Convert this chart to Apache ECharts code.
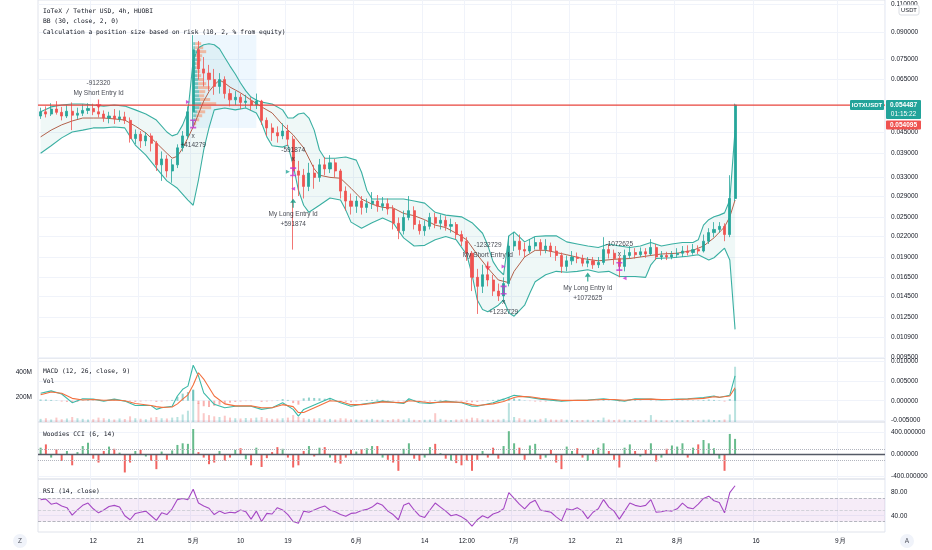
<!DOCTYPE html>
<html><head><meta charset="utf-8">
<script src="https://cdn.jsdelivr.net/npm/echarts/dist/echarts.min.js"></script>
<style>html,body{margin:0;padding:0;background:#fff;}#c{width:932px;height:550px;}</style>
</head><body><div id="c"></div>
<script>
// ---------- DATA ----------
const startDateUTC = Date.UTC(2021, 3, 2);   // first category (Apr 2)
const dayCount = 161;                         // Apr 2 .. Sep 9
const timeTicks = {'04-12':'12','04-21':'21','05-01':'5月','05-10':'10','05-19':'19','06-01':'6月','06-14':'14','06-22':'12:00','07-01':'7月','07-12':'12','07-21':'21','08-01':'8月','08-16':'16','09-01':'9月'};

const opens = [
 .0505,.0520,.0512,.0530,.0518,.0505,.0522,.0508,.0515,.0525,
 .0532,.0520,.0512,.0498,.0505,.0495,.0502,.0490,.0432,.0445,
 .0425,.0440,.0418,.0360,.0375,.0345,.0360,.0405,.0440,.0520,
 .0800,.0700,.0680,.0650,.0620,.0650,.0590,.0565,.0575,.0555,
 .0560,.0545,.0560,.0490,.0465,.0450,.0440,.0455,.0430,.0345,
 .0335,.0310,.0340,.0330,.0360,.0350,.0365,.0345,.0300,.0280,
 .0270,.0280,.0268,.0275,.0280,.0270,.0275,.0265,.0240,.0228,
 .0250,.0262,.0238,.0228,.0235,.0250,.0240,.0245,.0235,.0238,
 .0222,.0212,.0195,.0165,.0155,.0168,.0162,.0150,.0145,.0158,
 .0205,.0212,.0200,.0198,.0205,.0210,.0200,.0205,.0198,.0192,
 .0178,.0185,.0190,.0188,.0182,.0185,.0180,.0183,.0200,.0195,
 .0188,.0178,.0192,.0196,.0193,.0197,.0194,.0203,.0190,.0192,
 .0190,.0193,.0195,.0198,.0196,.0200,.0198,.0212,.0225,.0230,
 .0235,.0222,.0285];
const closes = [
 .0520,.0512,.0530,.0518,.0505,.0522,.0508,.0515,.0525,.0532,
 .0520,.0512,.0498,.0505,.0495,.0502,.0490,.0432,.0445,.0425,
 .0440,.0418,.0360,.0375,.0345,.0360,.0405,.0440,.0520,.0800,
 .0700,.0680,.0650,.0620,.0650,.0590,.0565,.0575,.0555,.0560,
 .0545,.0560,.0490,.0465,.0450,.0440,.0455,.0430,.0345,.0335,
 .0310,.0340,.0330,.0360,.0350,.0365,.0345,.0300,.0280,.0270,
 .0280,.0268,.0275,.0280,.0270,.0275,.0265,.0240,.0228,.0250,
 .0262,.0238,.0228,.0235,.0250,.0240,.0245,.0235,.0238,.0222,
 .0212,.0195,.0165,.0155,.0168,.0162,.0150,.0145,.0158,.0205,
 .0212,.0200,.0198,.0205,.0210,.0200,.0205,.0198,.0192,.0178,
 .0185,.0190,.0188,.0182,.0185,.0180,.0183,.0200,.0195,.0188,
 .0178,.0192,.0196,.0193,.0197,.0194,.0203,.0190,.0192,.0190,
 .0193,.0195,.0198,.0196,.0200,.0198,.0212,.0225,.0230,.0235,
 .0222,.0285,.054487];
const highs = [
 .0535,.0540,.0552,.0560,.0538,.0545,.0555,.0535,.0548,.0552,
 .0550,.0545,.0525,.0520,.0530,.0525,.0520,.0500,.0460,.0455,
 .0452,.0448,.0425,.0395,.0385,.0375,.0415,.0455,.0540,.0885,
 .0850,.0760,.0720,.0700,.0680,.0665,.0610,.0600,.0590,.0585,
 .0575,.0590,.0565,.0500,.0480,.0470,.0480,.0475,.0440,.0370,
 .0350,.0365,.0360,.0375,.0380,.0385,.0375,.0350,.0310,.0295,
 .0290,.0290,.0285,.0298,.0292,.0288,.0285,.0272,.0250,.0262,
 .0290,.0270,.0245,.0245,.0258,.0258,.0255,.0252,.0248,.0242,
 .0228,.0218,.0198,.0175,.0180,.0182,.0168,.0158,.0165,.0220,
 .0225,.0222,.0210,.0215,.0218,.0215,.0215,.0210,.0205,.0196,
 .0192,.0198,.0196,.0193,.0190,.0190,.0190,.0218,.0208,.0200,
 .0192,.0200,.0205,.0202,.0203,.0202,.0215,.0208,.0198,.0197,
 .0198,.0202,.0205,.0206,.0208,.0206,.0222,.0232,.0242,.0242,
 .0240,.0335,.0550];
const lows = [
 .0495,.0500,.0505,.0510,.0490,.0498,.0458,.0495,.0505,.0512,
 .0508,.0500,.0485,.0480,.0478,.0485,.0478,.0420,.0415,.0405,
 .0410,.0395,.0345,.0322,.0330,.0318,.0352,.0395,.0430,.0470,
 .0650,.0620,.0600,.0585,.0590,.0570,.0540,.0545,.0530,.0535,
 .0525,.0530,.0475,.0440,.0425,.0420,.0430,.0410,.0200,.0290,
 .0285,.0300,.0305,.0320,.0335,.0340,.0330,.0285,.0262,.0255,
 .0258,.0255,.0258,.0265,.0260,.0262,.0255,.0230,.0215,.0222,
 .0245,.0230,.0222,.0220,.0230,.0232,.0230,.0228,.0225,.0215,
 .0205,.0185,.0150,.0128,.0148,.0155,.0145,.0140,.0140,.0155,
 .0198,.0192,.0190,.0195,.0200,.0192,.0195,.0190,.0185,.0170,
 .0172,.0180,.0182,.0178,.0177,.0175,.0176,.0180,.0188,.0180,
 .0165,.0172,.0188,.0188,.0190,.0189,.0192,.0186,.0186,.0186,
 .0187,.0189,.0190,.0192,.0193,.0194,.0196,.0208,.0218,.0225,
 .0212,.0218,.0280];

// Bollinger bands (at sample days)
const bbUpperIdx = [0,2,4,6,8,10,12,14,16,18,20,22,24,25,26,27,28,29,30,31,32,33,34,35,36,37,38,39,40,41,42,44,46,47,48,49,50,51,52,53,54,56,58,60,61,62,63,65,67,69,71,73,75,77,80,82,84,85,86,87,88,89,90,92,94,96,98,100,102,104,106,108,110,112,114,116,118,120,122,124,125,126,127,128,129,130,131,132];
const bbUpper = [.0520,.0538,.0545,.0549,.0549,.0545,.0541,.0545,.0541,.0527,.0512,.0491,.0452,.0440,.0446,.0475,.0520,.0745,.0811,.0828,.0834,.0828,.0805,.0758,.0714,.0676,.0635,.0601,.0576,.0564,.0556,.0549,.0527,.0498,.0498,.0512,.0516,.0498,.0458,.0399,.0377,.0377,.0380,.0372,.0342,.0302,.0284,.0284,.0284,.0284,.0280,.0276,.0259,.0254,.0251,.0241,.0224,.0206,.0184,.0174,.0168,.0220,.0226,.0211,.0219,.0220,.0220,.0211,.0208,.0205,.0203,.0208,.0205,.0203,.0205,.0210,.0205,.0208,.0210,.0210,.0214,.0237,.0246,.0251,.0254,.0258,.0282,.0458];
const bbMidIdx = [0,2,4,6,8,10,12,14,16,18,20,22,24,25,26,27,28,29,30,31,32,33,34,35,36,37,38,40,42,44,46,48,50,52,53,55,57,59,61,63,65,67,69,71,73,75,77,79,81,83,85,87,89,90,92,94,96,98,100,103,106,109,112,115,118,121,124,126,128,130,131,132];
const bbMid = [.0437,.0458,.0475,.0488,.0498,.0498,.0498,.0495,.0491,.0471,.0449,.0419,.0390,.0377,.0382,.0404,.0434,.0468,.0512,.0560,.0598,.0626,.0648,.0635,.0617,.0605,.0593,.0564,.0538,.0516,.0475,.0443,.0405,.0350,.0335,.0330,.0328,.0306,.0284,.0274,.0268,.0267,.0257,.0253,.0246,.0237,.0233,.0224,.0214,.0193,.0176,.0162,.0159,.0172,.0190,.0199,.0199,.0196,.0193,.0188,.0185,.0187,.0188,.0191,.0194,.0195,.0199,.0205,.0217,.0234,.0251,.0282];
const bbLowerIdx = [0,2,4,6,8,10,12,14,16,18,20,22,24,26,28,29,30,31,32,33,35,37,39,41,42,43,44,46,47,48,49,50,51,53,55,57,58,59,61,63,65,67,69,71,73,75,77,79,81,82,83,84,85,87,88,89,90,92,93,94,96,98,100,102,104,106,108,110,113,115,116,117,120,123,125,127,128,130,131,132];
const bbLower = [.0390,.0411,.0434,.0452,.0458,.0465,.0465,.0468,.0465,.0413,.0385,.0352,.0322,.0306,.0282,.0272,.0324,.0399,.0465,.0527,.0534,.0527,.0534,.0516,.0481,.0437,.0411,.0407,.0413,.0359,.0302,.0272,.0259,.0272,.0286,.0282,.0263,.0242,.0232,.0241,.0249,.0241,.0217,.0205,.0206,.0214,.0219,.0214,.0193,.0168,.0141,.0132,.0130,.0136,.0141,.0129,.0126,.0136,.0148,.0160,.0168,.0172,.0171,.0172,.0174,.0171,.0172,.0166,.0166,.0165,.0180,.0188,.0189,.0191,.0193,.0186,.0189,.0202,.0186,.0115];

// Visible-range volume profile box
const vpStartIdx = 28.6, vpEndIdx = 40.8, vpTop = 0.0886, vpBottom = 0.0465;
const vpPrice = [.0834,.0811,.0789,.0767,.0746,.0726,.0706,.0687,.0668,.0650,.0632,.0615,.0598,.0581,.0566,.0550,.0535,.0520,.0506,.0492,.0479];
const vpBuy  = [2,2,3,3,4,3,3,4,4,5,5,5,6,6,7,8,6,4,3,2,1];
const vpSell = [6,8,10,6,4,3,2,3,4,5,8,12,6,5,10,15,12,8,6,4,2];

// Strategy trade marks
const tradeMarks = [
 {kind:'short', idx:11,    price:0.0549,  text:'-912320\nMy Short Entry Id'},
 {kind:'exit',  idx:28.6,  price:0.0478,  text:'x\n+414279'},
 {kind:'exit',  idx:47.5,  price:0.0343,  text:'-591874\nx'},
 {kind:'long',  idx:47.5,  price:0.0276,  text:'My Long Entry Id\n+591874'},
 {kind:'short', idx:84.9,  price:0.01785, text:'-1232729\nMy Short Entry Id'},
 {kind:'exit',  idx:88,    price:0.0151,  text:'x\n+1232729'},
 {kind:'long',  idx:103.5, price:0.01654, text:'My Long Entry Id\n+1072625'},
 {kind:'exit',  idx:110.2, price:0.0178,  text:'-1072625\nx'}
];
const flagMarks = [
 {idx:27.9, price:0.0557, dir:'right', kind:'exit'},
 {idx:47.2, price:0.0343, dir:'right', kind:'entry'},
 {idx:48.3, price:0.0305, dir:'left',  kind:'exit'},
 {idx:87.5, price:0.0178, dir:'right', kind:'exit'},
 {idx:110.5, price:0.0164, dir:'left', kind:'exit'}
];
const lastPrice = 0.054487, bidPrice = 0.054095, countdown = '01:15:22', symbolName = 'IOTXUSDT';

// Volume (millions)
const volumeM = [
 25,30,20,35,22,28,40,30,25,20, 22,35,30,25,20,28,24,45,30,26,
 22,35,40,30,28,35,40,60,90,260, 150,70,55,45,40,50,35,30,28,32,
 30,35,40,30,25,28,30,35,55,40, 30,25,28,30,22,25,20,30,28,22,
 20,18,20,25,18,20,16,22,25,20, 30,18,16,18,20,70,25,18,16,20,
 22,25,35,30,22,20,18,20,25,150, 40,30,22,20,18,25,30,20,18,22,
 18,16,15,16,18,15,16,35,20,16, 20,18,15,14,15,16,55,18,14,13,
 14,15,14,16,15,14,18,20,16,15, 20,60,440];

// MACD (12,26,9)
const macdIdx = [0,2,4,6,8,10,12,14,16,18,21,22,23,25,26,27,28,29,30,31,33,35,37,40,42,44,46,48,49,50,53,55,57,59,61,63,65,69,70,72,74,77,80,82,83,86,88,90,91,93,95,99,102,104,107,109,111,113,116,118,121,123,126,128,129,131,132];
const macdLine = [.0019,.0025,.0017,-.0005,.0005,.0004,-.0001,.0004,-.0001,-.0012,-.0012,-.0022,-.0018,-.0014,.0012,.0029,.0037,.0090,.0063,.0020,-.0009,-.0018,-.0014,-.0014,-.0022,-.0018,-.0005,-.0022,-.0039,-.0022,-.0005,.0006,-.0005,-.0014,-.0009,-.0005,-.0001,-.0007,.0005,-.0005,-.0007,-.0001,-.0005,-.0014,-.0014,-.0005,.0004,.0014,.0012,.0008,.0004,-.0001,.0001,.0002,.0005,.0002,-.0001,.0005,.0004,.0002,.0004,.0005,.0008,.0012,.0008,.0014,.0063];
const signalLine = [.0015,.0022,.0019,.0006,.0002,.0003,.0001,.0002,.0000,-.0007,-.0012,-.0015,-.0017,-.0016,-.0008,.0004,.0015,.0040,.0071,.0055,.0012,-.0008,-.0013,-.0013,-.0018,-.0018,-.0010,-.0015,-.0030,-.0030,-.0012,.0000,-.0002,-.0010,-.0010,-.0007,-.0003,-.0005,.0000,-.0002,-.0005,-.0003,-.0004,-.0010,-.0012,-.0008,-.0002,.0008,.0011,.0010,.0006,.0001,.0001,.0001,.0003,.0003,.0001,.0003,.0004,.0003,.0003,.0004,.0006,.0010,.0009,.0012,.0033];
// histogram in units of 1e-4
const macdHistE4 = [
 3,3,2,1,-2,-3,-4,-3,1,2, 1,0,-1,1,1,0,-1,-2,-3,-2,
 -1,-1,-3,-2,-1,2,10,18,22,27, -8,-14,-16,-13,-10,-8,-5,-3,-2,-1,
 -1,0,-3,-2,-1,1,4,2,-6,-10, 6,8,7,6,5,4,1,-2,-3,-4,
 -2,1,2,2,3,2,1,-1,-2,-2, 4,2,-1,-2,-2,2,2,1,0,-1,
 -2,-3,-4,-3,-1,1,2,3,5,9, 6,4,1,-1,-2,-2,-2,-1,-1,-2,
 0,1,1,0,1,0,1,3,1,0, -2,-1,1,2,1,0,1,-1,0,0,
 1,1,1,1,1,1,2,3,2,1, -2,4,30];

// Woodies CCI (6,14)
const cci = [
 120,180,-60,90,-120,60,-200,40,150,210, -80,-150,60,140,100,30,-330,-150,60,80,
 -40,-120,-270,50,-100,70,170,200,190,460, 40,-60,-180,-150,60,-120,-60,80,110,-90,
 -200,120,-230,-70,40,130,100,-60,-240,-200, 60,150,-40,120,130,-60,-150,-170,-60,80,
 50,90,110,150,150,-60,-100,-150,-300,100, 200,-80,-120,-60,130,190,20,-80,-120,-160,
 -200,-120,-300,-100,60,-60,120,-80,150,420, 200,120,-100,160,190,-90,-60,80,-150,-270,
 140,60,110,-60,-120,80,120,200,60,-100, -240,120,180,60,-40,80,200,-130,-60,100,
 160,140,200,-60,120,180,260,200,110,-80, -300,370,280];

// RSI (14)
const rsi = [
 68,69,60,62,57,54,41,50,58,62, 52,45,50,56,58,55,40,33,44,46,
 48,40,32,45,42,52,68,70,68,86, 62,57,53,42,48,44,46,45,50,47,
 34,48,30,44,43,54,50,42,30,27, 48,46,50,54,57,50,47,42,39,44,
 45,49,51,55,62,58,48,42,33,58, 62,50,40,37,50,62,55,48,40,42,
 38,32,22,33,40,36,43,46,52,80, 70,60,52,62,67,50,48,46,38,31,
 52,50,54,48,35,46,52,68,55,48, 34,48,62,58,56,58,68,46,47,49,
 48,52,62,54,52,60,70,74,66,63, 45,80,92];

// Axis ticks
const priceTicks = [0.11,0.09,0.075,0.065,0.045,0.039,0.033,0.029,0.025,0.022,0.019,0.0165,0.0145,0.0125,0.0109,0.0095];
const macdTicks = [-0.005,0,0.005,0.01];
const volTicksM = [200,400];
const cciTicks = [-400,0,400];
const rsiTicks = [40,80];

// ---------- BUILD ----------
const dates = [];
for (let d = 0; d < dayCount; d++) {
  const t = new Date(startDateUTC + d * 86400000);
  dates.push(String(t.getUTCMonth()+1).padStart(2,'0') + '-' + String(t.getUTCDate()).padStart(2,'0'));
}
const UP = '#26a69a', DOWN = '#ef5350', GRIDC = '#f0f3fa', BORDER = '#e0e3eb', TXT = '#131722';
const FONT = 'Liberation Sans', MONO = 'DejaVu Sans Mono', FS = 6.5;
const L = 38, R = 47, W = 932;
const isUp = opens.map((o, i) => closes[i] >= o);

const chart = echarts.init(document.getElementById('c'), null, {renderer:'canvas', width:932, height:550});

const gridTops = [0, 358, 422, 479], gridHeights = [358, 64, 57, 53];
const grids = gridTops.map((t, k) => ({left:L, right:R, top:t, height:gridHeights[k], show:true, borderColor:BORDER, borderWidth:1, backgroundColor:'transparent'}));
const xAxes = [0,1,2,3].map(k => ({
  type:'category', gridIndex:k, data:dates, boundaryGap:true,
  axisLine:{show:false}, axisTick:{show:false},
  axisLabel: k === 3 ? {show:true, interval:(i) => !!timeTicks[dates[i]], formatter:(v) => timeTicks[v] || '', fontSize:FS, color:TXT, fontFamily:FONT, margin:6} : {show:false},
  splitLine:{show:true, interval:(i) => !!timeTicks[dates[i]], lineStyle:{color:GRIDC, width:1}}
}));
const axLabel = (vals, fmt) => ({customValues:vals, formatter:fmt, fontSize:FS, color:TXT, fontFamily:FONT, margin:6});
const yAxes = [
  {type:'log', logBase:10, gridIndex:0, position:'right', min:0.009431, max:0.1129, axisLine:{show:false}, axisTick:{show:false, customValues:priceTicks}, axisLabel:axLabel(priceTicks, v => (+v).toFixed(6)), splitLine:{show:true, lineStyle:{color:GRIDC}}},
  {type:'value', gridIndex:1, position:'right', min:-0.0054, max:0.01084, axisLine:{show:false}, axisTick:{show:false, customValues:macdTicks}, axisLabel:axLabel(macdTicks, v => (+v).toFixed(6)), splitLine:{show:true, lineStyle:{color:GRIDC}}},
  {type:'value', gridIndex:1, position:'left', min:0, max:509.6, axisLine:{show:false}, axisTick:{show:false, customValues:volTicksM}, axisLabel:axLabel(volTicksM, v => v + 'M'), splitLine:{show:false}},
  {type:'value', gridIndex:2, position:'right', min:-449, max:587, axisLine:{show:false}, axisTick:{show:false, customValues:cciTicks}, axisLabel:axLabel(cciTicks, v => (+v).toFixed(6)), splitLine:{show:true, lineStyle:{color:GRIDC}}},
  {type:'value', gridIndex:3, position:'right', min:11.7, max:103.8, axisLine:{show:false}, axisTick:{show:false, customValues:rsiTicks}, axisLabel:axLabel(rsiTicks, v => (+v).toFixed(2)), splitLine:{show:true, lineStyle:{color:GRIDC}}}
];

const pairs = (idx, vals) => idx.map((x, k) => [x, vals[k]]);
const arrowDown = 'path://M4,0L6,0L6,7L10,7L5,13L0,7L4,7Z';
const arrowUp = 'path://M5,0L10,6L6,6L6,13L4,13L4,6L0,6Z';
const exitBeam = 'path://M0,0L9,0L9,2L5.5,2L5.5,9L9,9L9,11L0,11L0,9L3.5,9L3.5,2L0,2Z';
const PURPLE = '#c534cf';

const tradeData = tradeMarks.map(t => {
  let symbol, color, pos, dist, size;
  if (t.kind === 'short') { symbol = arrowDown; color = '#f23645'; pos = 'top'; dist = 2; size = [6, 9]; }
  else if (t.kind === 'long') { symbol = arrowUp; color = '#089981'; pos = 'bottom'; dist = 2; size = [6, 9]; }
  else { symbol = exitBeam; color = PURPLE; pos = t.text.startsWith('x') ? 'bottom' : 'top'; dist = 3; size = [6, 9]; }
  return {value:[t.idx, t.price], symbol, symbolSize:size, itemStyle:{color},
    label:{show:true, position:pos, distance:dist, formatter:t.text, fontSize:FS, lineHeight:9.5, color:TXT, fontFamily:FONT, align:'center'}};
});
const flagData = flagMarks.map(f => ({value:[f.idx, f.price], symbol:'triangle', symbolSize:[4,4], symbolRotate: f.dir === 'right' ? -90 : 90, itemStyle:{color: f.kind === 'exit' ? PURPLE : UP}}));

const series = [
  // Bollinger band fill
  {type:'custom', xAxisIndex:0, yAxisIndex:0, z:1, silent:true, data:[[0, bbMid[0]]],
   renderItem:(params, api) => {
     const pts = [];
     for (let k = 0; k < bbUpperIdx.length; k++) pts.push(api.coord([bbUpperIdx[k], bbUpper[k]]));
     for (let k = bbLowerIdx.length - 1; k >= 0; k--) pts.push(api.coord([bbLowerIdx[k], bbLower[k]]));
     return {type:'polygon', shape:{points:pts}, style:{fill:'rgba(38,166,154,0.075)'}};
   }},
  // volume profile rows
  {type:'custom', xAxisIndex:0, yAxisIndex:0, z:2, silent:true, data:vpPrice.map(p => [vpStartIdx, p]),
   renderItem:(params, api) => {
     const k = params.dataIndex;
     const pt = api.coord([vpStartIdx, vpPrice[k]]);
     const h = 3, unit = 1;
     const wb = vpBuy[k] * unit, ws = vpSell[k] * unit;
     return {type:'group', children:[
       {type:'rect', shape:{x:pt[0], y:pt[1] - h/2, width:wb, height:h}, style:{fill:'rgba(38,166,154,0.55)'}},
       {type:'rect', shape:{x:pt[0] + wb, y:pt[1] - h/2, width:ws, height:h}, style:{fill:'rgba(247,141,94,0.55)'}}
     ]};
   }},
  {type:'line', name:'BB upper', xAxisIndex:0, yAxisIndex:0, z:3, data:pairs(bbUpperIdx, bbUpper), showSymbol:false, lineStyle:{color:'#3aafa2', width:1.1}, silent:true},
  {type:'line', name:'BB lower', xAxisIndex:0, yAxisIndex:0, z:3, data:pairs(bbLowerIdx, bbLower), showSymbol:false, lineStyle:{color:'#3aafa2', width:1.1}, silent:true},
  {type:'line', name:'BB basis', xAxisIndex:0, yAxisIndex:0, z:3, data:pairs(bbMidIdx, bbMid), showSymbol:false, lineStyle:{color:'#b2624c', width:1}, silent:true},
  {type:'candlestick', xAxisIndex:0, yAxisIndex:0, z:4, barWidth:2.6,
   data:opens.map((o, i) => [o, closes[i], lows[i], highs[i]]),
   itemStyle:{color:UP, color0:DOWN, borderColor:UP, borderColor0:DOWN, borderWidth:0.8},
   markArea:{silent:true, itemStyle:{color:'rgba(66,165,245,0.09)'}, data:[[{coord:[vpStartIdx, vpTop]}, {coord:[vpEndIdx, vpBottom]}]]}
  },
  // last-price line across the whole pane
  {type:'custom', xAxisIndex:0, yAxisIndex:0, z:5, silent:true, data:[[0, lastPrice]],
   renderItem:(params, api) => {
     const y = api.coord([0, lastPrice])[1];
     const cs = params.coordSys;
     return {type:'line', shape:{x1:cs.x, y1:y, x2:cs.x + cs.width, y2:y}, style:{stroke:'#e8453c', lineWidth:1.3}};
   }},
  {type:'scatter', xAxisIndex:0, yAxisIndex:0, z:6, silent:true, data:tradeData},
  {type:'scatter', xAxisIndex:0, yAxisIndex:0, z:6, silent:true, data:flagData},
  // MACD pane
  {type:'bar', name:'Vol', xAxisIndex:1, yAxisIndex:2, barWidth:2, barGap:'-100%', silent:true,
   data:volumeM.map((v, i) => ({value:v, itemStyle:{color: isUp[i] ? 'rgba(38,166,154,0.32)' : 'rgba(239,83,80,0.32)'}}))},
  {type:'bar', name:'Histogram', xAxisIndex:1, yAxisIndex:1, barWidth:2, barGap:'-100%', silent:true,
   data:macdHistE4.map(v => ({value:v * 1e-4, itemStyle:{color: v >= 0 ? 'rgba(38,166,154,0.5)' : 'rgba(239,83,80,0.45)'}}))},
  {type:'line', name:'MACD', xAxisIndex:1, yAxisIndex:1, data:pairs(macdIdx, macdLine), showSymbol:false, lineStyle:{color:'#3cb9a8', width:1.1}, silent:true, z:5},
  {type:'line', name:'Signal', xAxisIndex:1, yAxisIndex:1, data:pairs(macdIdx, signalLine), showSymbol:false, lineStyle:{color:'#f2703f', width:1.1}, silent:true, z:5},
  // CCI pane
  {type:'bar', name:'CCI', xAxisIndex:2, yAxisIndex:3, barWidth:2, silent:true,
   data:cci.map((v, i) => ({value:v, itemStyle:{color: isUp[i] ? 'rgba(76,175,120,0.85)' : 'rgba(239,83,80,0.9)'}})),
   markLine:{silent:true, symbol:['none','none'], label:{show:false}, data:[
     {yAxis:100, lineStyle:{color:'#b2b5be', type:'dotted', width:1}},
     {yAxis:-100, lineStyle:{color:'#b2b5be', type:'dotted', width:1}},
     {yAxis:0, lineStyle:{color:'#555a66', type:'solid', width:1.3}}]}},
  // RSI pane
  {type:'line', name:'RSI', xAxisIndex:3, yAxisIndex:4, data:rsi, showSymbol:false, lineStyle:{color:'#a548c4', width:1.1}, silent:true,
   markArea:{silent:true, itemStyle:{color:'rgba(156,39,176,0.09)'}, data:[[{yAxis:30}, {yAxis:70}]]},
   markLine:{silent:true, symbol:['none','none'], label:{show:false}, data:[
     {yAxis:70, lineStyle:{color:'#a3a6af', type:'dashed', width:0.8}},
     {yAxis:50, lineStyle:{color:'#c9cbd2', type:'dashed', width:0.8}},
     {yAxis:30, lineStyle:{color:'#a3a6af', type:'dashed', width:0.8}}]}}
];

chart.setOption({animation:false, backgroundColor:'#ffffff', textStyle:{fontFamily:FONT}, grid:grids, xAxis:xAxes, yAxis:yAxes, series:series});

// ---------- TEXT OVERLAYS ----------
const yLast = chart.convertToPixel({yAxisIndex:0}, lastPrice);
const xr = W - R;
const txt = (x, y, s, o) => Object.assign({type:'text', x:x, y:y, z:100, style:Object.assign({text:s, fontSize:FS, fontFamily:FONT, fill:TXT, textVerticalAlign:'middle'}, o || {})});
const graphics = [
  txt(43, 11, 'IoTeX / Tether USD, 4h, HUOBI', {fontFamily:MONO, fontSize:6.3}),
  txt(43, 21.5, 'BB (30, close, 2, 0)', {fontFamily:MONO, fontSize:6.3}),
  txt(43, 32, 'Calculation a position size based on risk (10, 2, % from equity)', {fontFamily:MONO, fontSize:6.3}),
  txt(43, 371, 'MACD (12, 26, close, 9)', {fontFamily:MONO, fontSize:6.3}),
  txt(43, 381, 'Vol', {fontFamily:MONO, fontSize:6.3}),
  txt(43, 434, 'Woodies CCI (6, 14)', {fontFamily:MONO, fontSize:6.3}),
  txt(43, 491, 'RSI (14, close)', {fontFamily:MONO, fontSize:6.3}),
  // symbol tag + last price tags
  {type:'rect', z:100, shape:{x:xr - 35, y:yLast - 5, width:34, height:10, r:1}, style:{fill:'#22a39a'}},
  txt(xr - 18, yLast, symbolName, {fill:'#fff', fontWeight:'bold', textAlign:'center', fontSize:6}),
  {type:'rect', z:100, shape:{x:xr + 1, y:yLast - 5, width:35, height:19, r:1}, style:{fill:'#22a39a'}},
  txt(xr + 18.5, yLast, lastPrice.toFixed(6), {fill:'#fff', fontWeight:'bold', textAlign:'center'}),
  txt(xr + 18.5, yLast + 9, countdown, {fill:'#fff', textAlign:'center'}),
  {type:'rect', z:100, shape:{x:xr + 1, y:yLast + 15.5, width:35, height:9, r:1}, style:{fill:'#ef5350'}},
  txt(xr + 18.5, yLast + 20, bidPrice.toFixed(6), {fill:'#fff', fontWeight:'bold', textAlign:'center'}),
  // currency tag
  {type:'rect', z:100, shape:{x:899, y:5, width:20, height:10, r:2}, style:{fill:'#fff', stroke:'#d1d4dc', lineWidth:0.8}},
  txt(909, 10, 'USDT', {textAlign:'center', fontSize:5.8}),
  // corner buttons
  {type:'circle', z:100, shape:{cx:20, cy:541, r:7}, style:{fill:'#f0f3fa'}},
  txt(20, 541, 'Z', {textAlign:'center', fill:'#50535e'}),
  {type:'circle', z:100, shape:{cx:907, cy:541, r:7}, style:{fill:'#f0f3fa'}},
  txt(907, 541, 'A', {textAlign:'center', fill:'#50535e'})
];
chart.setOption({graphic:graphics});
</script></body></html>
